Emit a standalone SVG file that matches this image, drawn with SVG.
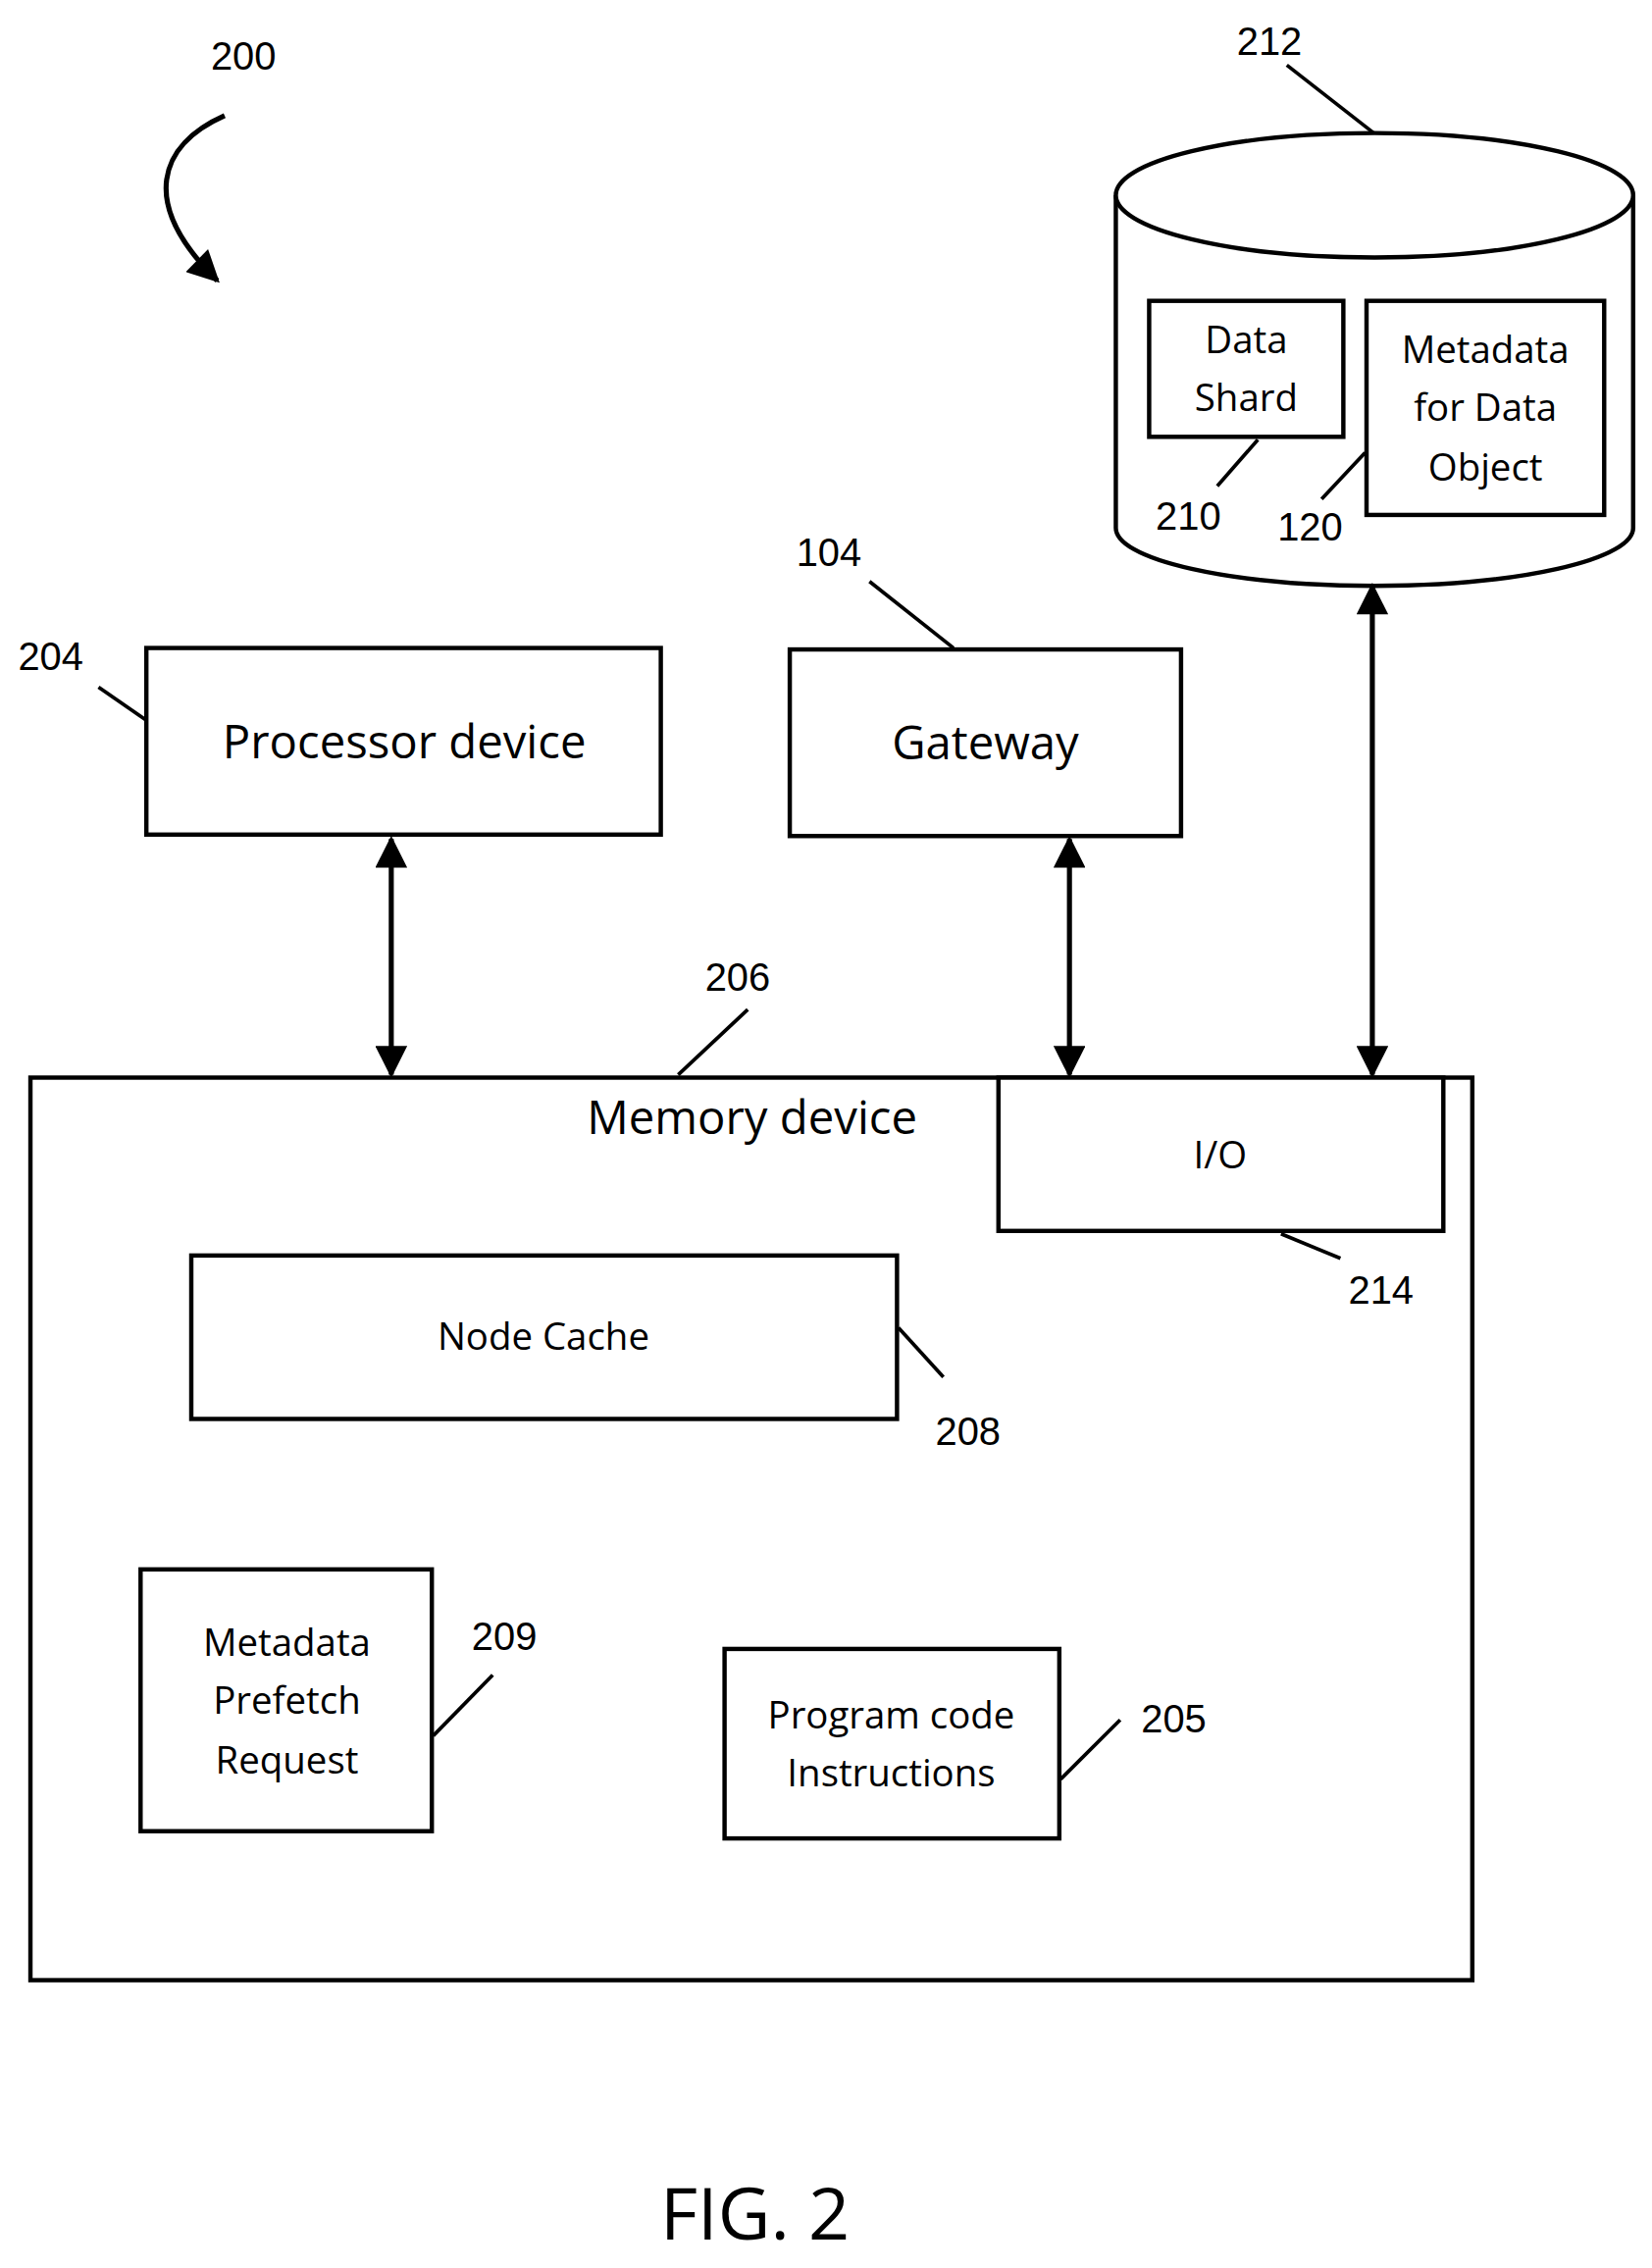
<svg xmlns="http://www.w3.org/2000/svg" width="1684" height="2312" viewBox="0 0 1684 2312">
<style>
.b{fill:#fff;stroke:#000;stroke-width:3}
.l{stroke:#000;stroke-width:2.5;fill:none}
.ar{stroke:#000;stroke-width:3.5;fill:none}
.t{font-family:"Open Sans","Liberation Sans",sans-serif;fill:#000;text-anchor:middle}
.n{font-family:"Liberation Sans",sans-serif;fill:#000;text-anchor:middle;font-size:27px}
</style>
<defs>
<marker id="a" viewBox="0 0 10 10" refX="9" refY="5" markerUnits="userSpaceOnUse" markerWidth="24" markerHeight="22" orient="auto-start-reverse"><path d="M0,0L10,5L0,10z" fill="#000"/></marker>
</defs>
<rect width="1684" height="2312" fill="#fff"/>
<g transform="scale(1.4772,1.4745)">
<text class="n" x="168" y="48">200</text>
<g id="n212">
<path class="b" d="M770,135 L770,365 A178.5,40 0 0 0 1127,365 L1127,135"/>
<ellipse class="b" cx="948.5" cy="135" rx="178.5" ry="43"/>
<text class="n" x="876" y="38">212</text>
</g>
<g id="n210"><rect class="b" x="793" y="208" width="134" height="94"/>
<text class="t" font-size="26" x="860" y="244">Data</text><text class="t" font-size="26" x="860" y="284">Shard</text>
<text class="n" x="820" y="366">210</text></g>
<g id="n120"><rect class="b" x="943" y="208" width="164" height="148"/>
<text class="t" font-size="26" x="1025" y="251">Metadata</text><text class="t" font-size="26" x="1025" y="291">for Data</text><text class="t" font-size="26" x="1025" y="332">Object</text>
<text class="n" x="904" y="374">120</text></g>
<g id="n204"><rect class="b" x="101" y="448" width="355" height="129"/>
<text class="t" font-size="32" x="279" y="524">Processor device</text>
<text class="n" x="35" y="463">204</text></g>
<g id="n104"><rect class="b" x="545" y="449" width="270" height="129"/>
<text class="t" font-size="32" x="680" y="525">Gateway</text>
<text class="n" x="572" y="391">104</text></g>
<g id="n206"><rect class="b" x="21" y="745" width="995" height="624"/>
<text class="t" font-size="32" x="519" y="784">Memory device</text>
<text class="n" x="509" y="685">206</text></g>
<g id="n214"><rect class="b" x="689" y="745" width="307" height="106"/>
<text class="t" font-size="26" x="842" y="808">I/O</text>
<text class="n" x="953" y="901">214</text></g>
<g id="n208"><rect class="b" x="132" y="868" width="487" height="113"/>
<text class="t" font-size="26" x="375" y="933">Node Cache</text>
<text class="n" x="668" y="999">208</text></g>
<g id="n209"><rect class="b" x="97" y="1085" width="201" height="181"/>
<text class="t" font-size="26" x="198" y="1145">Metadata</text><text class="t" font-size="26" x="198" y="1185">Prefetch</text><text class="t" font-size="26" x="198" y="1226">Request</text>
<text class="n" x="348" y="1141">209</text></g>
<g id="n205"><rect class="b" x="500" y="1140" width="231" height="131"/>
<text class="t" font-size="26" x="615" y="1195">Program code</text><text class="t" font-size="26" x="615" y="1235">Instructions</text>
<text class="n" x="810" y="1198">205</text></g>
<text class="t" font-size="50" x="521" y="1548">FIG. 2</text>
<g id="connectors">
<path class="ar" d="M155,80 C110,100 95,140 150,194" marker-end="url(#a)"/>
<line class="ar" x1="270" y1="580" x2="270" y2="743" marker-start="url(#a)" marker-end="url(#a)"/>
<line class="ar" x1="738" y1="580" x2="738" y2="743" marker-start="url(#a)" marker-end="url(#a)"/>
<line class="ar" x1="947" y1="405" x2="947" y2="743" marker-start="url(#a)" marker-end="url(#a)"/>
<line class="l" x1="888" y1="45" x2="948" y2="92"/>
<line class="l" x1="840" y1="336" x2="868" y2="304"/>
<line class="l" x1="912" y1="345" x2="942" y2="313"/>
<line class="l" x1="600" y1="402" x2="658" y2="448"/>
<line class="l" x1="68" y1="475" x2="101" y2="498"/>
<line class="l" x1="468" y1="743" x2="516" y2="698"/>
<line class="l" x1="884" y1="853" x2="925" y2="870"/>
<line class="l" x1="620" y1="918" x2="651" y2="952"/>
<line class="l" x1="299" y1="1200" x2="340" y2="1158"/>
<line class="l" x1="732" y1="1230" x2="773" y2="1189"/>
</g>
</g>
</svg>
